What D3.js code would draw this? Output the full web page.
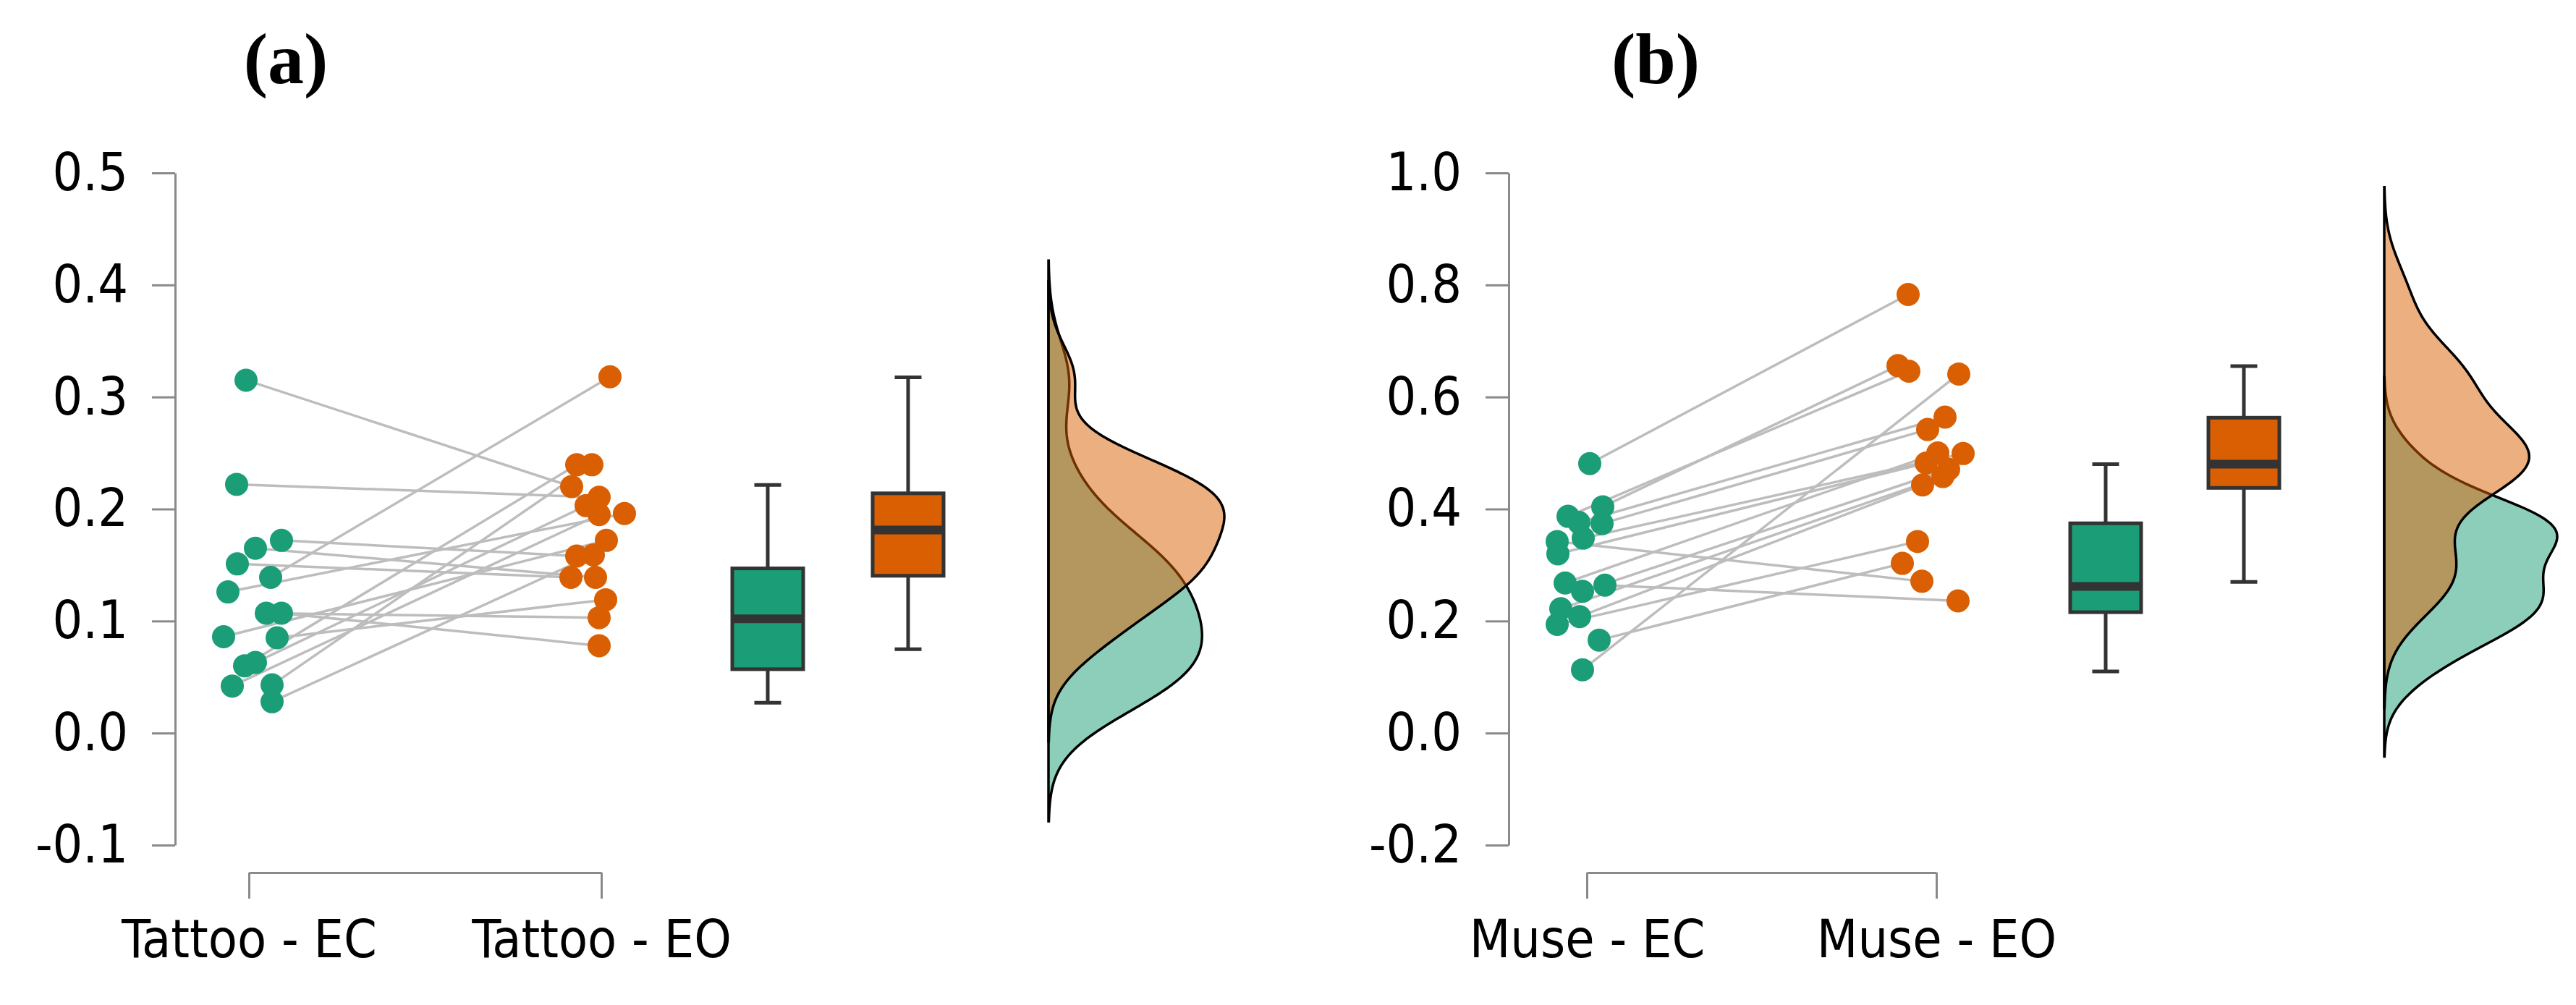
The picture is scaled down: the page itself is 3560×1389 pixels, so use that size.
<!DOCTYPE html>
<html>
<head>
<meta charset="utf-8">
<script src="https://cdn.jsdelivr.net/npm/d3@7"></script>
<style>
  body { margin: 0; background: #fff; }
  svg { display: block; }
  .axis text { font-family: "DejaVu Sans Condensed", "DejaVu Sans", sans-serif; font-size: 73px; fill: #000; }
  .axis path, .axis line { stroke: #8a8a8a; stroke-width: 3; }
  .title { font-family: "Liberation Serif", "Times New Roman", serif; font-weight: bold; font-size: 100px; }
</style>
</head>
<body>
<svg id="fig" width="3560" height="1389"></svg>
<script>
// ---- values ----
var panelTitles = ["(a)", "(b)"];
var groupsA = ["Tattoo - EC", "Tattoo - EO"];
var groupsB = ["Muse - EC", "Muse - EO"];
var yTicksA = [-0.1, 0.0, 0.1, 0.2, 0.3, 0.4, 0.5];
var yTicksB = [-0.2, 0.0, 0.2, 0.4, 0.6, 0.8, 1.0];

// subject i : ecX[i] is paired with eoX[i]
var ecA = [0.315, 0.222, 0.172, 0.165, 0.151, 0.139, 0.126, 0.107, 0.107, 0.085, 0.086, 0.060, 0.063, 0.042, 0.043, 0.028];
var eoA = [0.220, 0.2105, 0.158, 0.139, 0.139, 0.318, 0.196, 0.103, 0.078, 0.119, 0.172, 0.2395, 0.203, 0.195, 0.2395, 0.159];
var ecB = [0.481, 0.404, 0.387, 0.376, 0.374, 0.348, 0.342, 0.320, 0.268, 0.264, 0.253, 0.222, 0.208, 0.194, 0.166, 0.113];
var eoB = [0.783, 0.656, 0.646, 0.564, 0.542, 0.499, 0.271, 0.482, 0.500, 0.236, 0.471, 0.458, 0.443, 0.342, 0.303, 0.641];

// horizontal jitter of each dot, -1 .. 1
var ecJitA = [-0.08, -0.34, 0.90, 0.18, -0.32, 0.60, -0.58, 0.48, 0.90, 0.78, -0.70, -0.12, 0.18, -0.46, 0.64, 0.64];
var eoJitA = [-0.82, -0.06, -0.68, -0.16, -0.84, 0.24, 0.64, -0.06, -0.06, 0.12, 0.14, -0.68, -0.42, -0.06, -0.26, -0.22];
var ecJitB = [0.08, 0.44, -0.52, -0.22, 0.42, -0.10, -0.82, -0.80, -0.60, 0.50, -0.12, -0.72, -0.20, -0.82, 0.34, -0.12];
var eoJitB = [-0.78, -1.06, -0.76, 0.24, -0.24, 0.74, -0.40, -0.28, 0.04, 0.60, 0.34, 0.18, -0.38, -0.52, -0.94, 0.62];

// boxplots: lower whisker, Q1, median, Q3, upper whisker
var boxEcA = [0.027, 0.057, 0.102, 0.147, 0.2215];
var boxEoA = [0.0748, 0.1404, 0.1813, 0.214, 0.3176];
var boxEcB = [0.110, 0.2158, 0.2618, 0.3745, 0.480];
var boxEoB = [0.270, 0.4377, 0.480, 0.563, 0.655];

var colEC = "#1b9e77", colEO = "#d95f02";

// ---- layout ----
var panels = [
  { title: panelTitles[0], titleX: 395, groups: groupsA, ticks: yTicksA, ec: ecA, eo: eoA, ecJit: ecJitA, eoJit: eoJitA,
    boxes: [boxEcA, boxEoA], axisX: 242, catX: [344, 831], boxX: [1061, 1255], densX: 1449, densW: 243 },
  { title: panelTitles[1], titleX: 2288, groups: groupsB, ticks: yTicksB, ec: ecB, eo: eoB, ecJit: ecJitB, eoJit: eoJitB,
    boxes: [boxEcB, boxEoB], axisX: 2085, catX: [2193, 2676], boxX: [2910, 3101], densX: 3295, densW: 239 }
];
var yTop = 239, yBot = 1168, xAxisY = 1206;
var boxW = 98, capW = 37, dotR = 16;

var svg = d3.select("#fig");
svg.append("rect").attr("width", 3560).attr("height", 1389).attr("fill", "#fff");

function kde(values) {
  var n = values.length, s = values.slice().sort(d3.ascending);
  var sd = d3.deviation(s), iqr = d3.quantile(s, 0.75) - d3.quantile(s, 0.25);
  var bw = 0.9 * Math.min(sd, iqr / 1.34) * Math.pow(n, -0.2);
  var lo = s[0] - 3 * bw, hi = s[n - 1] + 3 * bw, out = [];
  for (var i = 0; i <= 300; i++) {
    var t = lo + (hi - lo) * i / 300;
    var dens = d3.sum(s, function(v) { var z = (t - v) / bw; return Math.exp(-0.5 * z * z); }) / (n * bw * Math.sqrt(2 * Math.PI));
    out.push([t, dens]);
  }
  return out;
}

panels.forEach(function(p) {
  var g = svg.append("g");
  var y = d3.scaleLinear().domain([p.ticks[0], p.ticks[p.ticks.length - 1]]).range([yBot, yTop]);
  var x = d3.scalePoint().domain(p.groups).range(p.catX);
  var jit = d3.scaleLinear().domain([-1, 1]).range([-50, 50]);

  g.append("text").attr("class", "title").attr("x", p.titleX).attr("y", 115)
    .attr("text-anchor", "middle").text(p.title);

  // y axis
  g.append("g").attr("class", "axis").attr("transform", "translate(" + p.axisX + ",0)")
    .call(d3.axisLeft(y).tickValues(p.ticks).tickSize(32).tickSizeOuter(0).tickPadding(33)
      .tickFormat(function(d) { return d.toFixed(1); }));

  // x axis
  g.append("g").attr("class", "axis").attr("transform", "translate(0," + xAxisY + ")")
    .call(d3.axisBottom(x).tickSize(36).tickSizeOuter(0).tickPadding(29));

  // paired lines
  g.selectAll("line.pair").data(p.ec).enter().append("line")
    .attr("x1", function(d, i) { return x(p.groups[0]) + jit(p.ecJit[i]); })
    .attr("y1", function(d) { return y(d); })
    .attr("x2", function(d, i) { return x(p.groups[1]) + jit(p.eoJit[i]); })
    .attr("y2", function(d, i) { return y(p.eo[i]); })
    .attr("stroke", "#bdbdbd").attr("stroke-width", 3.5);

  g.selectAll("circle.ec").data(p.ec).enter().append("circle")
    .attr("cx", function(d, i) { return x(p.groups[0]) + jit(p.ecJit[i]); })
    .attr("cy", function(d) { return y(d); })
    .attr("r", dotR).attr("fill", colEC);
  g.selectAll("circle.eo").data(p.eo).enter().append("circle")
    .attr("cx", function(d, i) { return x(p.groups[1]) + jit(p.eoJit[i]); })
    .attr("cy", function(d) { return y(d); })
    .attr("r", dotR).attr("fill", colEO);

  // boxplots
  p.boxes.forEach(function(b, k) {
    var cx = p.boxX[k], col = k === 0 ? colEC : colEO;
    var bg = g.append("g").attr("stroke", "#333").attr("stroke-width", 5);
    bg.append("line").attr("x1", cx).attr("x2", cx).attr("y1", y(b[0])).attr("y2", y(b[4]));
    bg.append("line").attr("x1", cx - capW / 2).attr("x2", cx + capW / 2).attr("y1", y(b[0])).attr("y2", y(b[0]));
    bg.append("line").attr("x1", cx - capW / 2).attr("x2", cx + capW / 2).attr("y1", y(b[4])).attr("y2", y(b[4]));
    bg.append("rect").attr("x", cx - boxW / 2).attr("width", boxW)
      .attr("y", y(b[3])).attr("height", y(b[1]) - y(b[3])).attr("fill", col);
    bg.append("line").attr("x1", cx - boxW / 2).attr("x2", cx + boxW / 2)
      .attr("y1", y(b[2])).attr("y2", y(b[2])).attr("stroke-width", 12);
  });

  // half violins
  var dEC = kde(p.ec), dEO = kde(p.eo);
  var dmax = d3.max(dEC.concat(dEO), function(d) { return d[1]; });
  var w = d3.scaleLinear().domain([0, dmax]).range([0, p.densW]);
  var area = d3.area().y(function(d) { return y(d[0]); })
    .x0(p.densX).x1(function(d) { return p.densX + w(d[1]); });
  [[dEC, colEC], [dEO, colEO]].forEach(function(pair) {
    g.append("path").datum(pair[0]).attr("d", area)
      .attr("fill", pair[1]).attr("fill-opacity", 0.5)
      .attr("stroke", "#000").attr("stroke-width", 3.5);
  });
});
</script>
</body>
</html>
